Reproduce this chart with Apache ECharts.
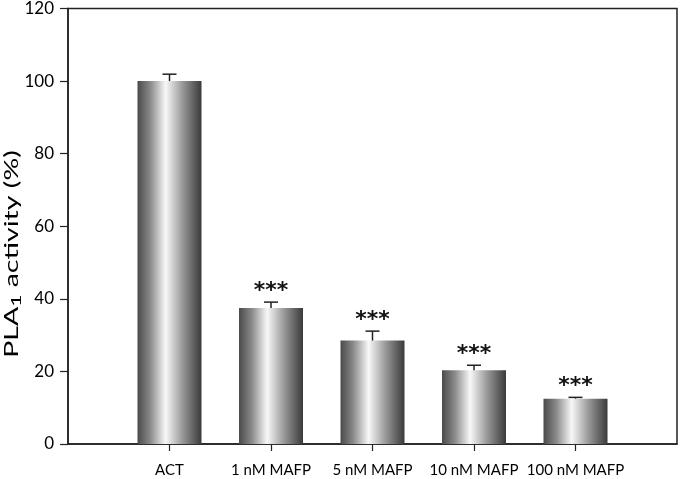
<!DOCTYPE html>
<html>
<head>
<meta charset="utf-8">
<script src="https://cdn.jsdelivr.net/npm/echarts@6/dist/echarts.min.js"></script>
<style>html,body{margin:0;padding:0;background:#fff;}#c{width:680px;height:479px;}</style>
</head>
<body>
<div id="c"></div>
<script>
const categories = ['ACT', '1 nM MAFP', '5 nM MAFP', '10 nM MAFP', '100 nM MAFP'];
const values = [100, 37.5, 28.5, 20.3, 12.5];
const errors = [1.9, 1.6, 2.6, 1.4, 0.35];
const marks = ['', '***', '***', '***', '***'];
const yTicks = [0, 20, 40, 60, 80, 100, 120];

const axisData = [''].concat(categories).concat(['']);
const pad = v => [null].concat(v).concat([null]);

const chart = echarts.init(document.getElementById('c'));
const font = 'Lato, "Open Sans", sans-serif';
chart.setOption({
  animation: false,
  grid: { left: 68, right: 3, top: 8, bottom: 35, show: true, borderColor: '#222', borderWidth: 1.5, backgroundColor: 'transparent' },
  xAxis: {
    type: 'category', data: axisData, boundaryGap: false,
    axisLine: { lineStyle: { color: '#222', width: 1.5 } },
    axisTick: { length: 7, lineStyle: { color: '#222', width: 1.2 },
      interval: (i) => i > 0 && i < axisData.length - 1 },
    axisLabel: { interval: 0, color: '#000', fontFamily: font, fontWeight: 'normal', fontSize: 15, margin: 19 },
    splitLine: { show: false }
  },
  yAxis: {
    type: 'value', min: yTicks[0], max: yTicks[yTicks.length - 1], interval: 20,
    axisLine: { show: true, lineStyle: { color: '#222', width: 1.5 } },
    axisTick: { show: true, length: 8, lineStyle: { color: '#222', width: 1.2 } },
    axisLabel: { color: '#000', fontFamily: font, fontWeight: 'normal', fontSize: 17, margin: 14 },
    splitLine: { show: false }
  },
  graphic: [{
    type: 'text', x: 12, y: 254, rotation: Math.PI / 2, scaleX: 1.5,
    style: {
      text: '{a|PLA}{s|1}{a| activity (%)}', align: 'center', verticalAlign: 'middle',
      rich: {
        a: { fontFamily: font, fontWeight: 'normal', fontSize: 19, fill: '#000' },
        s: { fontFamily: font, fontWeight: 'normal', fontSize: 14, fill: '#000', padding: [9, 0, 0, 0] }
      }
    }
  }],
  series: [
    {
      type: 'bar', data: pad(values), barWidth: 64,
      itemStyle: {
        color: new echarts.graphic.LinearGradient(0, 0, 1, 0, [
          { offset: 0, color: '#4a4a4a' },
          { offset: 0.2, color: '#8a8a8a' },
          { offset: 0.44, color: '#f8f8f8' },
          { offset: 0.7, color: '#9a9a9a' },
          { offset: 1, color: '#3a3a3a' }
        ])
      }
    },
    {
      type: 'custom',
      data: categories.map((c, i) => [i + 1, values[i], errors[i]]),
      renderItem: (params, api) => {
        const x = api.value(0), v = api.value(1), e = api.value(2);
        const p0 = api.coord([x, v]);
        const p1 = api.coord([x, v + e]);
        const hw = 7;
        const children = [
          { type: 'line', shape: { x1: p0[0], y1: p0[1], x2: p1[0], y2: p1[1] }, style: { stroke: '#222', lineWidth: 1.5 } },
          { type: 'line', shape: { x1: p1[0] - hw, y1: p1[1], x2: p1[0] + hw, y2: p1[1] }, style: { stroke: '#222', lineWidth: 1.5 } }
        ];
        const m = marks[params.dataIndex];
        if (m) {
          children.push({ type: 'text', style: { text: m, x: p1[0], y: p1[1] - 11, align: 'center', verticalAlign: 'middle',
            fill: '#111', font: 'bold 22px "DejaVu Sans"' } });
        }
        return { type: 'group', children };
      },
      z: 5
    }
  ]
});
</script>
</body>
</html>
